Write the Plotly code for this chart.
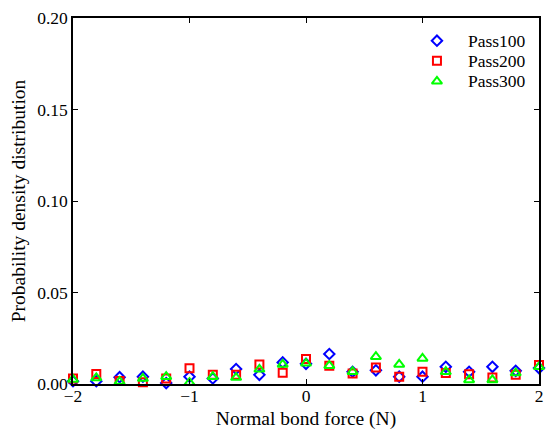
import plotly.graph_objects as go

force = [-2.0, -1.8, -1.6, -1.4, -1.2, -1.0, -0.8, -0.6, -0.4, -0.2, 0.0,
         0.2, 0.4, 0.6, 0.8, 1.0, 1.2, 1.4, 1.6, 1.8, 2.0]
pass100 = [0.0015, 0.0015, 0.0037, 0.0040, 0.0005, 0.0040, 0.0030, 0.0082, 0.0050, 0.0118, 0.0110,
           0.0164, 0.0067, 0.0075, 0.0040, 0.0040, 0.0094, 0.0067, 0.0094, 0.0072, 0.0087]
pass200 = [0.0030, 0.0055, 0.0017, 0.0010, 0.0030, 0.0086, 0.0050, 0.0050, 0.0107, 0.0062, 0.0136,
           0.0100, 0.0058, 0.0090, 0.0040, 0.0067, 0.0060, 0.0053, 0.0035, 0.0050, 0.0104]
pass300 = [0.0025, 0.0033, 0.0013, 0.0030, 0.0040, 0.0008, 0.0040, 0.0035, 0.0080, 0.0107, 0.0113,
           0.0100, 0.0067, 0.0149, 0.0107, 0.0140, 0.0067, 0.0022, 0.0022, 0.0060, 0.0094]
series_names = ["Pass100", "Pass200", "Pass300"]
x_tick_vals = [-2, -1, 0, 1, 2]
x_tick_text = ["\u22122", "\u22121", "0", "1", "2"]
y_tick_vals = [0, 0.05, 0.10, 0.15, 0.20]

FONT = "Liberation Serif, Times New Roman, serif"
TICK_SIZE = 17.5
TITLE_SIZE = 19.5

styles = [
    dict(symbol="diamond-open", size=8, color="#0000ff"),
    dict(symbol="square-open", size=8, color="#ff0000"),
    dict(symbol="triangle-up-open", size=9, color="#00ff00"),
]

fig = go.Figure()
for name, vals, st in zip(series_names, [pass100, pass200, pass300], styles):
    fig.add_trace(go.Scatter(
        x=force, y=vals, mode="markers", name=name, showlegend=False,
        marker=dict(symbol=st["symbol"], size=st["size"], color=st["color"],
                    line=dict(width=2, color=st["color"])),
        cliponaxis=False))

# compact legend (MATLAB style) drawn on a hidden overlay axis in [0,1] units
leg_marker_x = 0.781
leg_text_x = 0.843
leg_rows_y = [0.938, 0.883, 0.827]
for name, st, ly in zip(series_names, styles, leg_rows_y):
    fig.add_trace(go.Scatter(
        x=[leg_marker_x], y=[ly], xaxis="x2", yaxis="y2", mode="markers",
        showlegend=False, hoverinfo="skip",
        marker=dict(symbol=st["symbol"], size=st["size"], color=st["color"],
                    line=dict(width=2, color=st["color"])),
        cliponaxis=False))
    fig.add_annotation(x=leg_text_x, y=ly, xref="paper", yref="paper",
                       text=name, showarrow=False, xanchor="left", yanchor="middle",
                       font=dict(family=FONT, size=TICK_SIZE, color="black"))

axis_common = dict(showline=True, linecolor="black", linewidth=1.5, mirror="ticks",
                   ticks="inside", ticklen=5, tickcolor="black", tickwidth=1,
                   showgrid=False, zeroline=False, automargin=False,
                   tickfont=dict(family=FONT, size=TICK_SIZE, color="black"))

fig.update_layout(
    width=547, height=430,
    margin=dict(l=73, r=8, t=18, b=46, autoexpand=False),
    paper_bgcolor="white", plot_bgcolor="white",
    font=dict(family=FONT, size=TICK_SIZE, color="black"),
    showlegend=False,
    xaxis=dict(range=[-2, 2], tickvals=x_tick_vals, ticktext=x_tick_text,
               ticklabelstandoff=-5,
               title=dict(text="Normal bond force (N)", standoff=7,
                          font=dict(family=FONT, size=TITLE_SIZE, color="black")),
               **axis_common),
    yaxis=dict(range=[0, 0.2], tickvals=y_tick_vals, tickformat=".2f",
               title=dict(text="Probability density distribution", standoff=6,
                          font=dict(family=FONT, size=TITLE_SIZE, color="black")),
               **axis_common),
    xaxis2=dict(overlaying="x", range=[0, 1], visible=False, fixedrange=True),
    yaxis2=dict(overlaying="y", range=[0, 1], visible=False, fixedrange=True),
)

# remove the default 8px body margin so the 547x430 figure fills the window exactly
fig.write_html("out.html",
               config={"displayModeBar": False},
               post_script="document.body.style.margin='0';"
                           "document.body.style.overflow='hidden';")
